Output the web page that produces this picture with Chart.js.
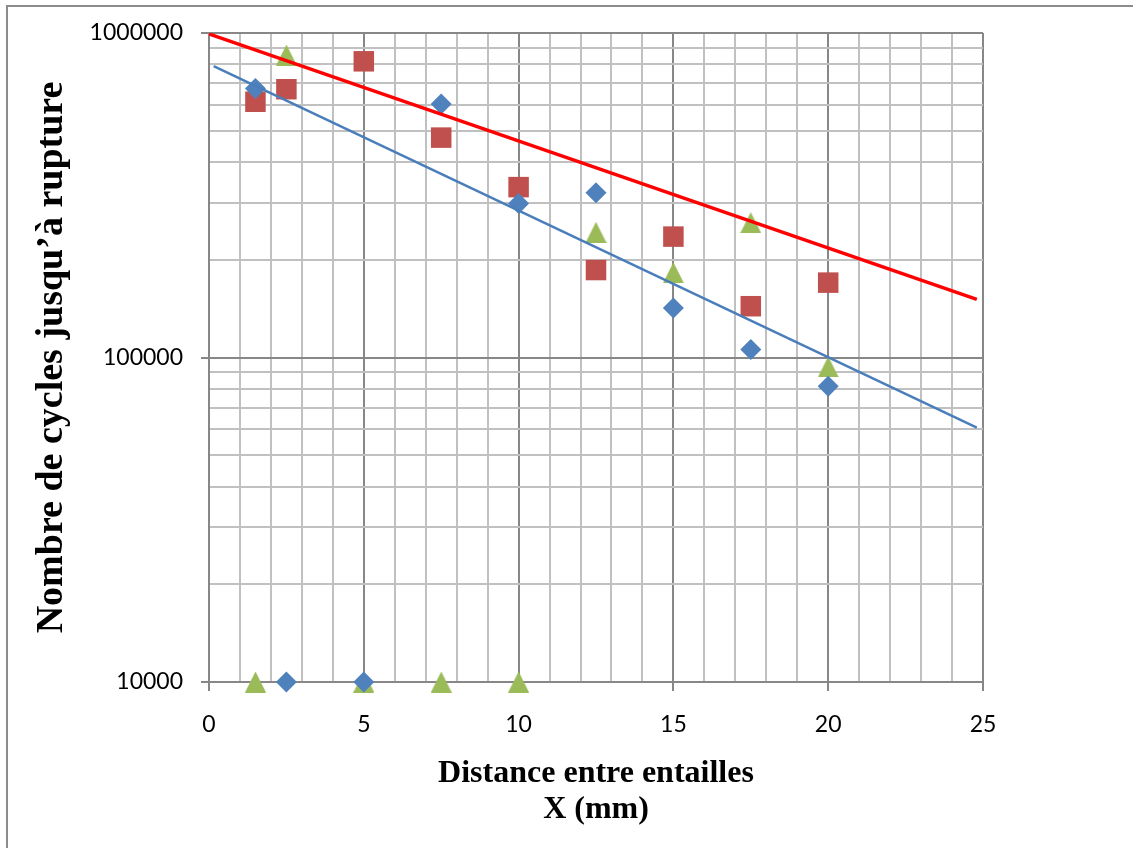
<!DOCTYPE html>
<html>
<head>
<meta charset="utf-8">
<script src="https://cdn.jsdelivr.net/npm/chart.js@4.4.1/dist/chart.umd.min.js"></script>
<style>
    body { margin: 0; background: #fff; overflow: hidden; }
    #wrap { position: relative; width: 1133px; height: 848px; }
    #frame { position: absolute; left: 6px; top: 5px; right: -10px; bottom: -10px; border-left: 2px solid #8c8c8c; border-top: 2px solid #8c8c8c; pointer-events: none; }
    canvas { position: absolute; left: 0; top: 0; }
</style>
</head>
<body>
<div id="wrap">
    <canvas id="chart" width="1133" height="848"></canvas>
    <div id="frame"></div>
</div>
<script>
// Distance entre entailles (mm)
const distances = [1.5, 2.5, 5, 7.5, 10, 12.5, 15, 17.5, 20];
// Nombre de cycles - trois séries
const cyclesBleu = [675000, 10000, 10000, 604000, 298000, 322000, 142000, 105800, 81500];
const cyclesRouge = [614000, 671000, 818000, 476000, 335000, 186000, 235800, 143900, 170100];
const cyclesVert = [10000, 855000, 10000, 10000, 10000, 243000, 182500, 260400, 93600];

// Courbes de tendance (extrémités)
const tendRougeX = [0, 24.8];
const tendRougeY = [993000, 151000];
const tendBleueX = [0.15, 24.8];
const tendBleueY = [791000, 60800];

// Graduations
const xMax = 25;
const yTicks = [10000, 20000, 30000, 40000, 50000, 60000, 70000, 80000, 90000,
    100000, 200000, 300000, 400000, 500000, 600000, 700000, 800000, 900000, 1000000];
const yMajors = [10000, 100000, 1000000];

const GRID_MINOR = '#c0c0c0';
const GRID_MAJOR = '#878787';

// marqueur triangle centré (comme Excel)
function triangle(w, h, color) {
    const c = document.createElement('canvas');
    c.width = w;
    c.height = h;
    const g = c.getContext('2d');
    g.fillStyle = color;
    g.beginPath();
    g.moveTo(w / 2, 0);
    g.lineTo(w, h);
    g.lineTo(0, h);
    g.closePath();
    g.fill();
    return c;
}

const pts = (xs, ys) => xs.map((x, i) => ({ x: x, y: ys[i] }));
const tickFont = { family: 'Lato', size: 23 };
const isMajorY = v => yMajors.includes(v);

new Chart(document.getElementById('chart'), {
    type: 'scatter',
    data: {
        datasets: [
            {
                label: 'Tendance rouge',
                data: pts(tendRougeX, tendRougeY),
                showLine: true,
                borderColor: '#ff0000',
                borderWidth: 3.5,
                pointRadius: 0,
                order: 0
            },
            {
                label: 'Tendance bleue',
                data: pts(tendBleueX, tendBleueY),
                showLine: true,
                borderColor: '#4a7ebb',
                borderWidth: 2.5,
                pointRadius: 0,
                order: 0
            },
            {
                label: 'Série 1',
                data: pts(distances, cyclesBleu),
                pointStyle: 'rectRot',
                pointRadius: 10.5,
                backgroundColor: '#4f81bd',
                borderWidth: 0,
                clip: false,
                order: 1
            },
            {
                label: 'Série 2',
                data: pts(distances, cyclesRouge),
                pointStyle: 'rect',
                pointRadius: 14.5,
                backgroundColor: '#c0504d',
                borderWidth: 0,
                clip: false,
                order: 2
            },
            {
                label: 'Série 3',
                data: pts(distances, cyclesVert),
                pointStyle: triangle(21, 21, '#9bbb59'),
                pointRadius: 10.5,
                backgroundColor: '#9bbb59',
                borderWidth: 0,
                clip: false,
                order: 3
            }
        ]
    },
    options: {
        responsive: false,
        animation: false,
        layout: { padding: { left: 0, right: 150, top: 33, bottom: 0 } },
        plugins: {
            legend: { display: false },
            tooltip: { enabled: false }
        },
        scales: {
            x: {
                type: 'linear',
                min: 0,
                max: xMax,
                ticks: {
                    stepSize: 1,
                    autoSkip: false,
                    maxRotation: 0,
                    padding: 20,
                    color: '#000',
                    font: tickFont,
                    callback: v => (v % 5 === 0 ? String(v) : '')
                },
                grid: {
                    lineWidth: 2,
                    tickLength: 9,
                    color: c => (c.tick && c.tick.value % 5 === 0 ? GRID_MAJOR : GRID_MINOR),
                    tickColor: c => (c.tick && c.tick.value % 5 === 0 ? GRID_MAJOR : 'rgba(0,0,0,0)')
                },
                border: { color: GRID_MAJOR, width: 2 },
                title: {
                    display: true,
                    text: ['Distance entre entailles', 'X (mm)'],
                    color: '#000',
                    font: { family: '"Liberation Serif"', size: 32, weight: 'bold', lineHeight: 1.125 },
                    padding: { top: 0, bottom: 20 }
                },
                afterFit: s => { s.height = 166; }
            },
            y: {
                type: 'logarithmic',
                min: 10000,
                max: 1000000,
                afterBuildTicks: s => { s.ticks = yTicks.map(v => ({ value: v, major: isMajorY(v) })); },
                ticks: {
                    autoSkip: false,
                    padding: 18,
                    color: '#000',
                    font: tickFont,
                    callback: v => (isMajorY(v) ? String(v) : '')
                },
                grid: {
                    lineWidth: 2,
                    tickLength: 8,
                    color: c => (c.tick && isMajorY(c.tick.value) ? GRID_MAJOR : GRID_MINOR),
                    tickColor: c => (c.tick && isMajorY(c.tick.value) ? GRID_MAJOR : 'rgba(0,0,0,0)')
                },
                border: { color: GRID_MAJOR, width: 2 },
                title: {
                    display: true,
                    text: 'Nombre de cycles jusqu’à rupture',
                    color: '#000',
                    font: { family: '"Liberation Serif"', size: 38, weight: 'bold', lineHeight: 1 },
                    padding: { top: 33, bottom: 0 }
                },
                afterFit: s => { s.width = 209; }
            }
        }
    }
});
</script>
</body>
</html>
